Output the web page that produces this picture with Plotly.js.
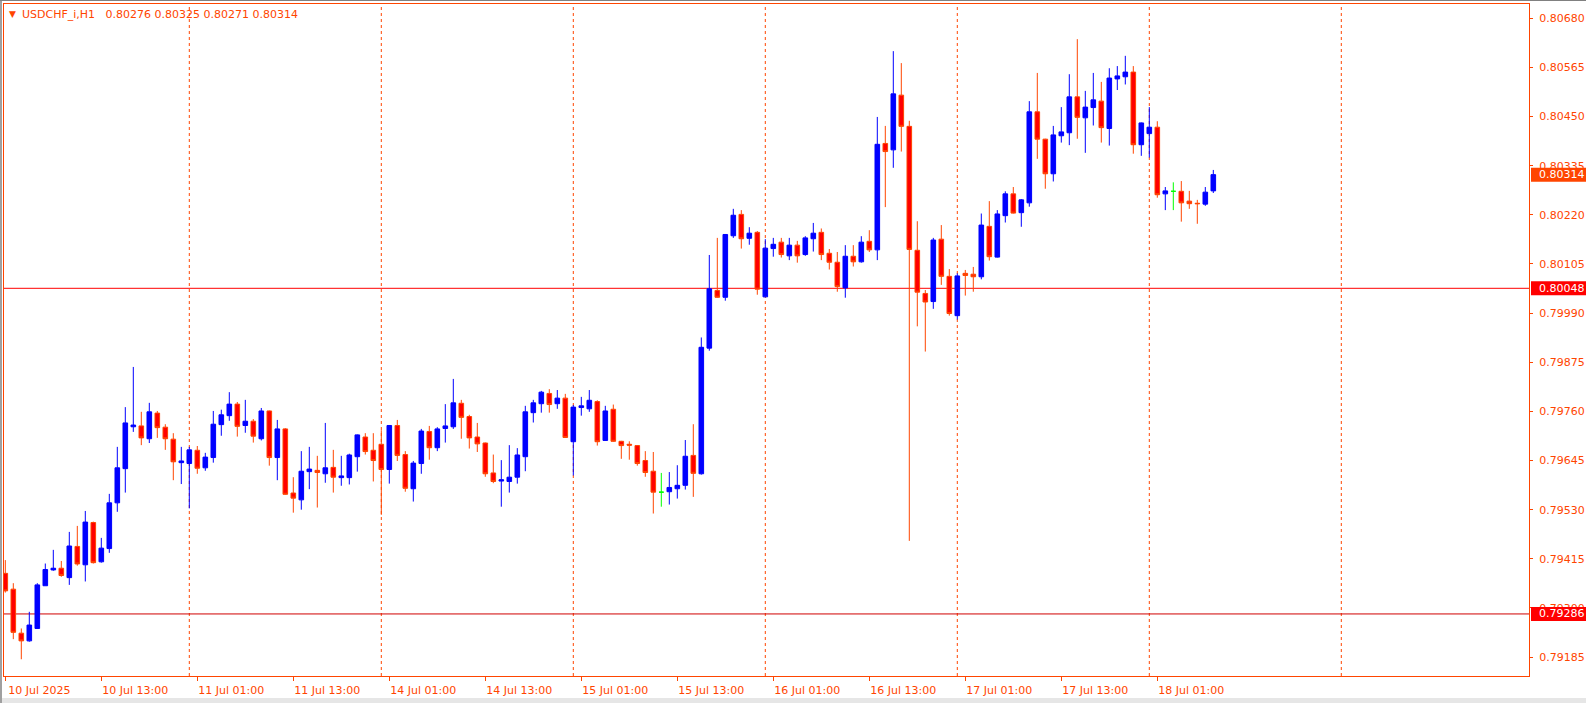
<!DOCTYPE html>
<html><head><meta charset="utf-8">
<script src="https://cdn.plot.ly/plotly-3.0.1.min.js"></script>
<style>html,body{margin:0;padding:0;background:#fff;overflow:hidden}#chart{width:1586px;height:703px}</style>
</head><body><div id="chart"></div>
<script>
// ---------- data ----------
const symbol = "USDCHF_i,H1";
const times = [
 "10 Jul 01:00","10 Jul 02:00","10 Jul 03:00","10 Jul 04:00","10 Jul 05:00","10 Jul 06:00","10 Jul 07:00","10 Jul 08:00","10 Jul 09:00","10 Jul 10:00","10 Jul 11:00","10 Jul 12:00","10 Jul 13:00","10 Jul 14:00","10 Jul 15:00","10 Jul 16:00","10 Jul 17:00","10 Jul 18:00","10 Jul 19:00","10 Jul 20:00","10 Jul 21:00","10 Jul 22:00","10 Jul 23:00",
 "11 Jul 00:00","11 Jul 01:00","11 Jul 02:00","11 Jul 03:00","11 Jul 04:00","11 Jul 05:00","11 Jul 06:00","11 Jul 07:00","11 Jul 08:00","11 Jul 09:00","11 Jul 10:00","11 Jul 11:00","11 Jul 12:00","11 Jul 13:00","11 Jul 14:00","11 Jul 15:00","11 Jul 16:00","11 Jul 17:00","11 Jul 18:00","11 Jul 19:00","11 Jul 20:00","11 Jul 21:00","11 Jul 22:00","11 Jul 23:00",
 "14 Jul 00:00","14 Jul 01:00","14 Jul 02:00","14 Jul 03:00","14 Jul 04:00","14 Jul 05:00","14 Jul 06:00","14 Jul 07:00","14 Jul 08:00","14 Jul 09:00","14 Jul 10:00","14 Jul 11:00","14 Jul 12:00","14 Jul 13:00","14 Jul 14:00","14 Jul 15:00","14 Jul 16:00","14 Jul 17:00","14 Jul 18:00","14 Jul 19:00","14 Jul 20:00","14 Jul 21:00","14 Jul 22:00","14 Jul 23:00",
 "15 Jul 00:00","15 Jul 01:00","15 Jul 02:00","15 Jul 03:00","15 Jul 04:00","15 Jul 05:00","15 Jul 06:00","15 Jul 07:00","15 Jul 08:00","15 Jul 09:00","15 Jul 10:00","15 Jul 11:00","15 Jul 12:00","15 Jul 13:00","15 Jul 14:00","15 Jul 15:00","15 Jul 16:00","15 Jul 17:00","15 Jul 18:00","15 Jul 19:00","15 Jul 20:00","15 Jul 21:00","15 Jul 22:00","15 Jul 23:00",
 "16 Jul 00:00","16 Jul 01:00","16 Jul 02:00","16 Jul 03:00","16 Jul 04:00","16 Jul 05:00","16 Jul 06:00","16 Jul 07:00","16 Jul 08:00","16 Jul 09:00","16 Jul 10:00","16 Jul 11:00","16 Jul 12:00","16 Jul 13:00","16 Jul 14:00","16 Jul 15:00","16 Jul 16:00","16 Jul 17:00","16 Jul 18:00","16 Jul 19:00","16 Jul 20:00","16 Jul 21:00","16 Jul 22:00","16 Jul 23:00",
 "17 Jul 00:00","17 Jul 01:00","17 Jul 02:00","17 Jul 03:00","17 Jul 04:00","17 Jul 05:00","17 Jul 06:00","17 Jul 07:00","17 Jul 08:00","17 Jul 09:00","17 Jul 10:00","17 Jul 11:00","17 Jul 12:00","17 Jul 13:00","17 Jul 14:00","17 Jul 15:00","17 Jul 16:00","17 Jul 17:00","17 Jul 18:00","17 Jul 19:00","17 Jul 20:00","17 Jul 21:00","17 Jul 22:00","17 Jul 23:00",
 "18 Jul 00:00","18 Jul 01:00","18 Jul 02:00","18 Jul 03:00","18 Jul 04:00","18 Jul 05:00","18 Jul 06:00","18 Jul 07:00","18 Jul 08:00"
];
const open = [
 0.79381,0.79344,0.79241,0.79223,0.79252,0.79352,0.79389,0.79393,0.79371,0.79444,0.79401,0.79500,0.79408,0.79439,0.79546,0.79626,0.79724,0.79726,0.79696,0.79756,0.79723,0.79695,0.79640,
 0.79638,0.79669,0.79628,0.79652,0.79729,0.79750,0.79777,0.79727,0.79737,0.79696,0.79761,0.79652,0.79719,0.79569,0.79553,0.79619,0.79622,0.79614,0.79629,0.79605,0.79605,0.79654,0.79700,0.79669,
 0.79683,0.79624,0.79727,0.79659,0.79579,0.79638,0.79713,0.79675,0.79720,0.79724,0.79779,0.79748,0.79700,0.79686,0.79616,0.79597,0.79596,0.79606,0.79654,0.79757,0.79778,0.79802,0.79778,0.79791,
 0.79689,0.79769,0.79766,0.79783,0.79692,0.79765,0.79690,0.79683,0.79680,0.79645,0.79620,0.79571,0.79572,0.79579,0.79587,0.79657,0.79614,0.79908,0.80043,0.80027,0.80171,0.80221,0.80165,0.80179,
 0.80028,0.80141,0.80156,0.80124,0.80149,0.80127,0.80164,0.80179,0.80130,0.80109,0.80049,0.80123,0.80110,0.80158,0.80138,0.80387,0.80372,0.80500,0.80427,0.80137,0.80036,0.80017,0.80163,0.80076,
 0.79984,0.80083,0.80081,0.80075,0.80193,0.80121,0.80218,0.80269,0.80225,0.80248,0.80461,0.80397,0.80316,0.80405,0.80412,0.80496,0.80447,0.80471,0.80486,0.80422,0.80538,0.80543,0.80554,0.80384,
 0.80410,0.80425,0.80269,0.80275,0.80275,0.80252,0.80247,0.80245,0.80276
];
const high = [
 0.79412,0.79358,0.79252,0.79291,0.79358,0.79404,0.79436,0.79410,0.79478,0.79492,0.79527,0.79502,0.79464,0.79567,0.79677,0.79770,0.79864,0.79759,0.79780,0.79761,0.79730,0.79709,0.79677,
 0.79677,0.79679,0.79663,0.79761,0.79764,0.79805,0.79782,0.79787,0.79742,0.79768,0.79762,0.79740,0.79721,0.79606,0.79667,0.79677,0.79656,0.79733,0.79670,0.79656,0.79661,0.79706,0.79709,0.79709,
 0.79716,0.79728,0.79740,0.79667,0.79644,0.79719,0.79726,0.79723,0.79777,0.79836,0.79787,0.79752,0.79733,0.79687,0.79659,0.79646,0.79681,0.79674,0.79773,0.79787,0.79808,0.79812,0.79810,0.79801,
 0.79775,0.79794,0.79810,0.79786,0.79773,0.79776,0.79691,0.79690,0.79681,0.79667,0.79665,0.79616,0.79618,0.79634,0.79693,0.79730,0.79933,0.80126,0.80166,0.80175,0.80234,0.80231,0.80191,0.80182,
 0.80163,0.80166,0.80166,0.80166,0.80159,0.80170,0.80201,0.80188,0.80140,0.80133,0.80149,0.80149,0.80170,0.80184,0.80449,0.80428,0.80603,0.80575,0.80440,0.80205,0.80044,0.80166,0.80196,0.80093,
 0.80083,0.80091,0.80098,0.80223,0.80252,0.80231,0.80275,0.80285,0.80257,0.80486,0.80552,0.80398,0.80428,0.80472,0.80549,0.80631,0.80510,0.80552,0.80531,0.80563,0.80568,0.80592,0.80568,0.80436,
 0.80472,0.80439,0.80285,0.80296,0.80299,0.80276,0.80255,0.80285,0.80325
];
const low = [
 0.79336,0.79227,0.79180,0.79221,0.79251,0.79352,0.79387,0.79373,0.79354,0.79399,0.79362,0.79404,0.79406,0.79429,0.79525,0.79570,0.79712,0.79681,0.79686,0.79698,0.79670,0.79599,0.79590,
 0.79533,0.79614,0.79621,0.79640,0.79703,0.79738,0.79701,0.79710,0.79687,0.79692,0.79633,0.79599,0.79565,0.79523,0.79530,0.79578,0.79535,0.79593,0.79570,0.79586,0.79589,0.79619,0.79659,0.79596,
 0.79518,0.79591,0.79644,0.79572,0.79549,0.79614,0.79647,0.79667,0.79687,0.79719,0.79696,0.79673,0.79665,0.79607,0.79592,0.79537,0.79570,0.79591,0.79620,0.79734,0.79757,0.79757,0.79766,0.79698,
 0.79610,0.79750,0.79759,0.79680,0.79691,0.79689,0.79649,0.79647,0.79633,0.79607,0.79521,0.79537,0.79542,0.79556,0.79577,0.79560,0.79612,0.79902,0.80026,0.80019,0.80166,0.80141,0.80150,0.80033,
 0.80027,0.80122,0.80120,0.80114,0.80108,0.80124,0.80134,0.80114,0.80092,0.80040,0.80026,0.80099,0.80108,0.80133,0.80114,0.80238,0.80330,0.80368,0.79457,0.79959,0.79900,0.80000,0.80056,0.79984,
 0.79975,0.80031,0.80040,0.80069,0.80113,0.80120,0.80202,0.80223,0.80192,0.80239,0.80351,0.80281,0.80298,0.80389,0.80383,0.80398,0.80365,0.80429,0.80389,0.80382,0.80512,0.80525,0.80363,0.80358,
 0.80354,0.80260,0.80231,0.80231,0.80204,0.80234,0.80199,0.80241,0.80271
];
const close = [
 0.79340,0.79243,0.79223,0.79260,0.79354,0.79390,0.79393,0.79376,0.79445,0.79403,0.79501,0.79406,0.79440,0.79546,0.79628,0.79733,0.79728,0.79698,0.79759,0.79722,0.79696,0.79642,0.79644,
 0.79670,0.79627,0.79653,0.79730,0.79752,0.79777,0.79725,0.79737,0.79702,0.79761,0.79652,0.79719,0.79566,0.79557,0.79620,0.79625,0.79617,0.79628,0.79606,0.79609,0.79658,0.79705,0.79666,0.79645,
 0.79624,0.79727,0.79657,0.79580,0.79639,0.79714,0.79675,0.79719,0.79726,0.79780,0.79746,0.79698,0.79684,0.79614,0.79596,0.79600,0.79606,0.79658,0.79759,0.79780,0.79805,0.79776,0.79791,0.79699,
 0.79770,0.79773,0.79786,0.79689,0.79761,0.79690,0.79680,0.79681,0.79638,0.79617,0.79571,0.79571,0.79582,0.79587,0.79655,0.79615,0.79910,0.80047,0.80027,0.80174,0.80219,0.80164,0.80177,0.80046,
 0.80142,0.80151,0.80127,0.80149,0.80124,0.80166,0.80177,0.80127,0.80109,0.80052,0.80123,0.80110,0.80156,0.80138,0.80385,0.80368,0.80503,0.80427,0.80139,0.80039,0.80016,0.80161,0.80076,0.79989,
 0.80077,0.80078,0.80075,0.80196,0.80122,0.80222,0.80269,0.80224,0.80255,0.80461,0.80397,0.80316,0.80407,0.80414,0.80496,0.80448,0.80472,0.80489,0.80424,0.80540,0.80545,0.80554,0.80384,0.80435,
 0.80425,0.80267,0.80276,0.80275,0.80248,0.80246,0.80246,0.80273,0.80314
];
const tickTimes = ["10 Jul 01:00","10 Jul 13:00","11 Jul 01:00","11 Jul 13:00","14 Jul 01:00","14 Jul 13:00","15 Jul 01:00","15 Jul 13:00","16 Jul 01:00","16 Jul 13:00","17 Jul 01:00","17 Jul 13:00","18 Jul 01:00"];
const tickText  = ["10 Jul 2025","10 Jul 13:00","11 Jul 01:00","11 Jul 13:00","14 Jul 01:00","14 Jul 13:00","15 Jul 01:00","15 Jul 13:00","16 Jul 01:00","16 Jul 13:00","17 Jul 01:00","17 Jul 13:00","18 Jul 01:00"];
const priceTicks = [0.79185,0.79300,0.79415,0.79530,0.79645,0.79760,0.79875,0.79990,0.80105,0.80220,0.80335,0.80450,0.80565,0.80680];
const levels = [0.80048, 0.79286];
const levelColors = ['#FF0000', '#D00000'];

// ---------- build ----------
const ORANGE = '#FF4500';
const W = 1586, H = 703, M = {l: 4, r: 57, t: 4, b: 27};
const plotW = W - M.l - M.r, plotH = H - M.t - M.b;
const yRange = [0.791408, 0.807133];
const perPx = (yRange[1] - yRange[0]) / plotH;

const idx = times.map((t, i) => i);
const isDoji = open.map((o, i) => o === close[i]);
const pick = (arr, want) => arr.map((v, i) => (isDoji[i] === want ? v : null));

const candles = {
  type: 'candlestick', x: idx,
  open: pick(open, false), high: pick(high, false), low: pick(low, false), close: pick(close, false),
  increasing: {line: {color: '#0000FF', width: 1}, fillcolor: '#0000FF'},
  decreasing: {line: {color: ORANGE, width: 1}, fillcolor: '#FF0000'},
  whiskerwidth: 0, hoverinfo: 'skip', showlegend: false
};
const dojis = {
  type: 'candlestick', x: idx,
  open: pick(open, true), high: pick(high, true), low: pick(low, true), close: pick(close, true),
  increasing: {line: {color: '#00FF00', width: 1}, fillcolor: '#00FF00'},
  decreasing: {line: {color: '#00FF00', width: 1}, fillcolor: '#00FF00'},
  whiskerwidth: 0, hoverinfo: 'skip', showlegend: false
};

const tickvals = tickTimes.map(t => times.indexOf(t));
const sepIdx = idx.filter(i => times[i].endsWith('00:00'));
sepIdx.push(sepIdx[sepIdx.length - 1] + 24);

const shapes = [];
sepIdx.forEach(i => shapes.push({type: 'line', xref: 'x', yref: 'paper', x0: i, x1: i, y0: 0, y1: 1,
  line: {color: ORANGE, width: 1, dash: '3px,3px'}, layer: 'below'}));
levels.forEach((v, k) => shapes.push({type: 'line', xref: 'paper', yref: 'y', x0: 0, x1: 1, y0: v, y1: v,
  line: {color: levelColors[k], width: 1}, layer: 'below'}));
// window chrome
shapes.push({type: 'rect', xref: 'paper', yref: 'paper', x0: -M.l / plotW, x1: -2 / plotW,
  y0: -M.b / plotH, y1: 1 + M.t / plotH, fillcolor: '#A0A0A0', line: {width: 0}});
shapes.push({type: 'rect', xref: 'paper', yref: 'paper', x0: -M.l / plotW, x1: 1 + M.r / plotW,
  y0: 1 + (M.t - 1) / plotH, y1: 1 + M.t / plotH, fillcolor: '#808080', line: {width: 0}});
shapes.push({type: 'rect', xref: 'paper', yref: 'paper', x0: -2 / plotW, x1: 1 + M.r / plotW,
  y0: -M.b / plotH, y1: -(M.b - 5) / plotH, fillcolor: '#E6E6E6', line: {width: 0}});

const n = close.length - 1;
const fmt = v => v.toFixed(5);
const annotations = [];
function priceBox(v, bg) {
  shapes.push({type: 'rect', xref: 'paper', yref: 'y', x0: 1 + 2 / plotW, x1: 1 + M.r / plotW,
    y0: v - 7 * perPx, y1: v + 7 * perPx, fillcolor: bg, line: {width: 0}, layer: 'above'});
  annotations.push({xref: 'paper', yref: 'y', x: 1, y: v, xanchor: 'left', yanchor: 'middle',
    xshift: 9, text: fmt(v), showarrow: false, borderpad: 0,
    font: {family: 'DejaVu Sans', size: 11, color: '#FFFFFF'}});
}
priceBox(levels[0], '#FF0000');
priceBox(levels[1], '#FF0000');
priceBox(close[n], ORANGE);
annotations.push({xref: 'paper', yref: 'paper', x: 0, y: 1, xanchor: 'left', yanchor: 'middle', xshift: 3, yshift: -10,
   text: '▼', showarrow: false, font: {family: 'DejaVu Sans', size: 9, color: ORANGE}});
annotations.push({xref: 'paper', yref: 'paper', x: 0, y: 1, xanchor: 'left', yanchor: 'middle', xshift: 16, yshift: -10,
   text: symbol + '\u00A0\u00A0\u00A0' + [open[n], high[n], low[n], close[n]].map(fmt).join(' '),
   showarrow: false, font: {family: 'DejaVu Sans', size: 11, color: ORANGE}});

const layout = {
  width: W, height: H, margin: {l: M.l, r: M.r, t: M.t, b: M.b, pad: 0},
  paper_bgcolor: '#FFFFFF', plot_bgcolor: '#FFFFFF', showlegend: false,
  boxgap: 0.425, boxgroupgap: 0,
  font: {family: 'DejaVu Sans', size: 11, color: ORANGE},
  xaxis: {type: 'linear', range: [-0.1625, 190.4625], tickmode: 'array', tickvals: tickvals, ticktext: tickText,
    ticks: 'outside', ticklen: 4, tickwidth: 1, tickcolor: ORANGE, ticklabelshift: 34,
    tickfont: {family: 'DejaVu Sans', size: 11, color: ORANGE},
    showgrid: false, zeroline: false, showline: true, mirror: true, linecolor: ORANGE, linewidth: 1,
    rangeslider: {visible: false}, fixedrange: true},
  yaxis: {side: 'right', range: yRange, tickmode: 'array', tickvals: priceTicks, tickformat: '.5f',
    ticks: 'outside', ticklen: 3, tickwidth: 1, tickcolor: ORANGE, ticklabelstandoff: 4,
    tickfont: {family: 'DejaVu Sans', size: 11, color: ORANGE},
    showgrid: false, zeroline: false, showline: true, mirror: true, linecolor: ORANGE, linewidth: 1, fixedrange: true},
  shapes: shapes, annotations: annotations
};

Plotly.newPlot('chart', [candles, dojis], layout, {displayModeBar: false, staticPlot: true});
</script>
</body></html>
